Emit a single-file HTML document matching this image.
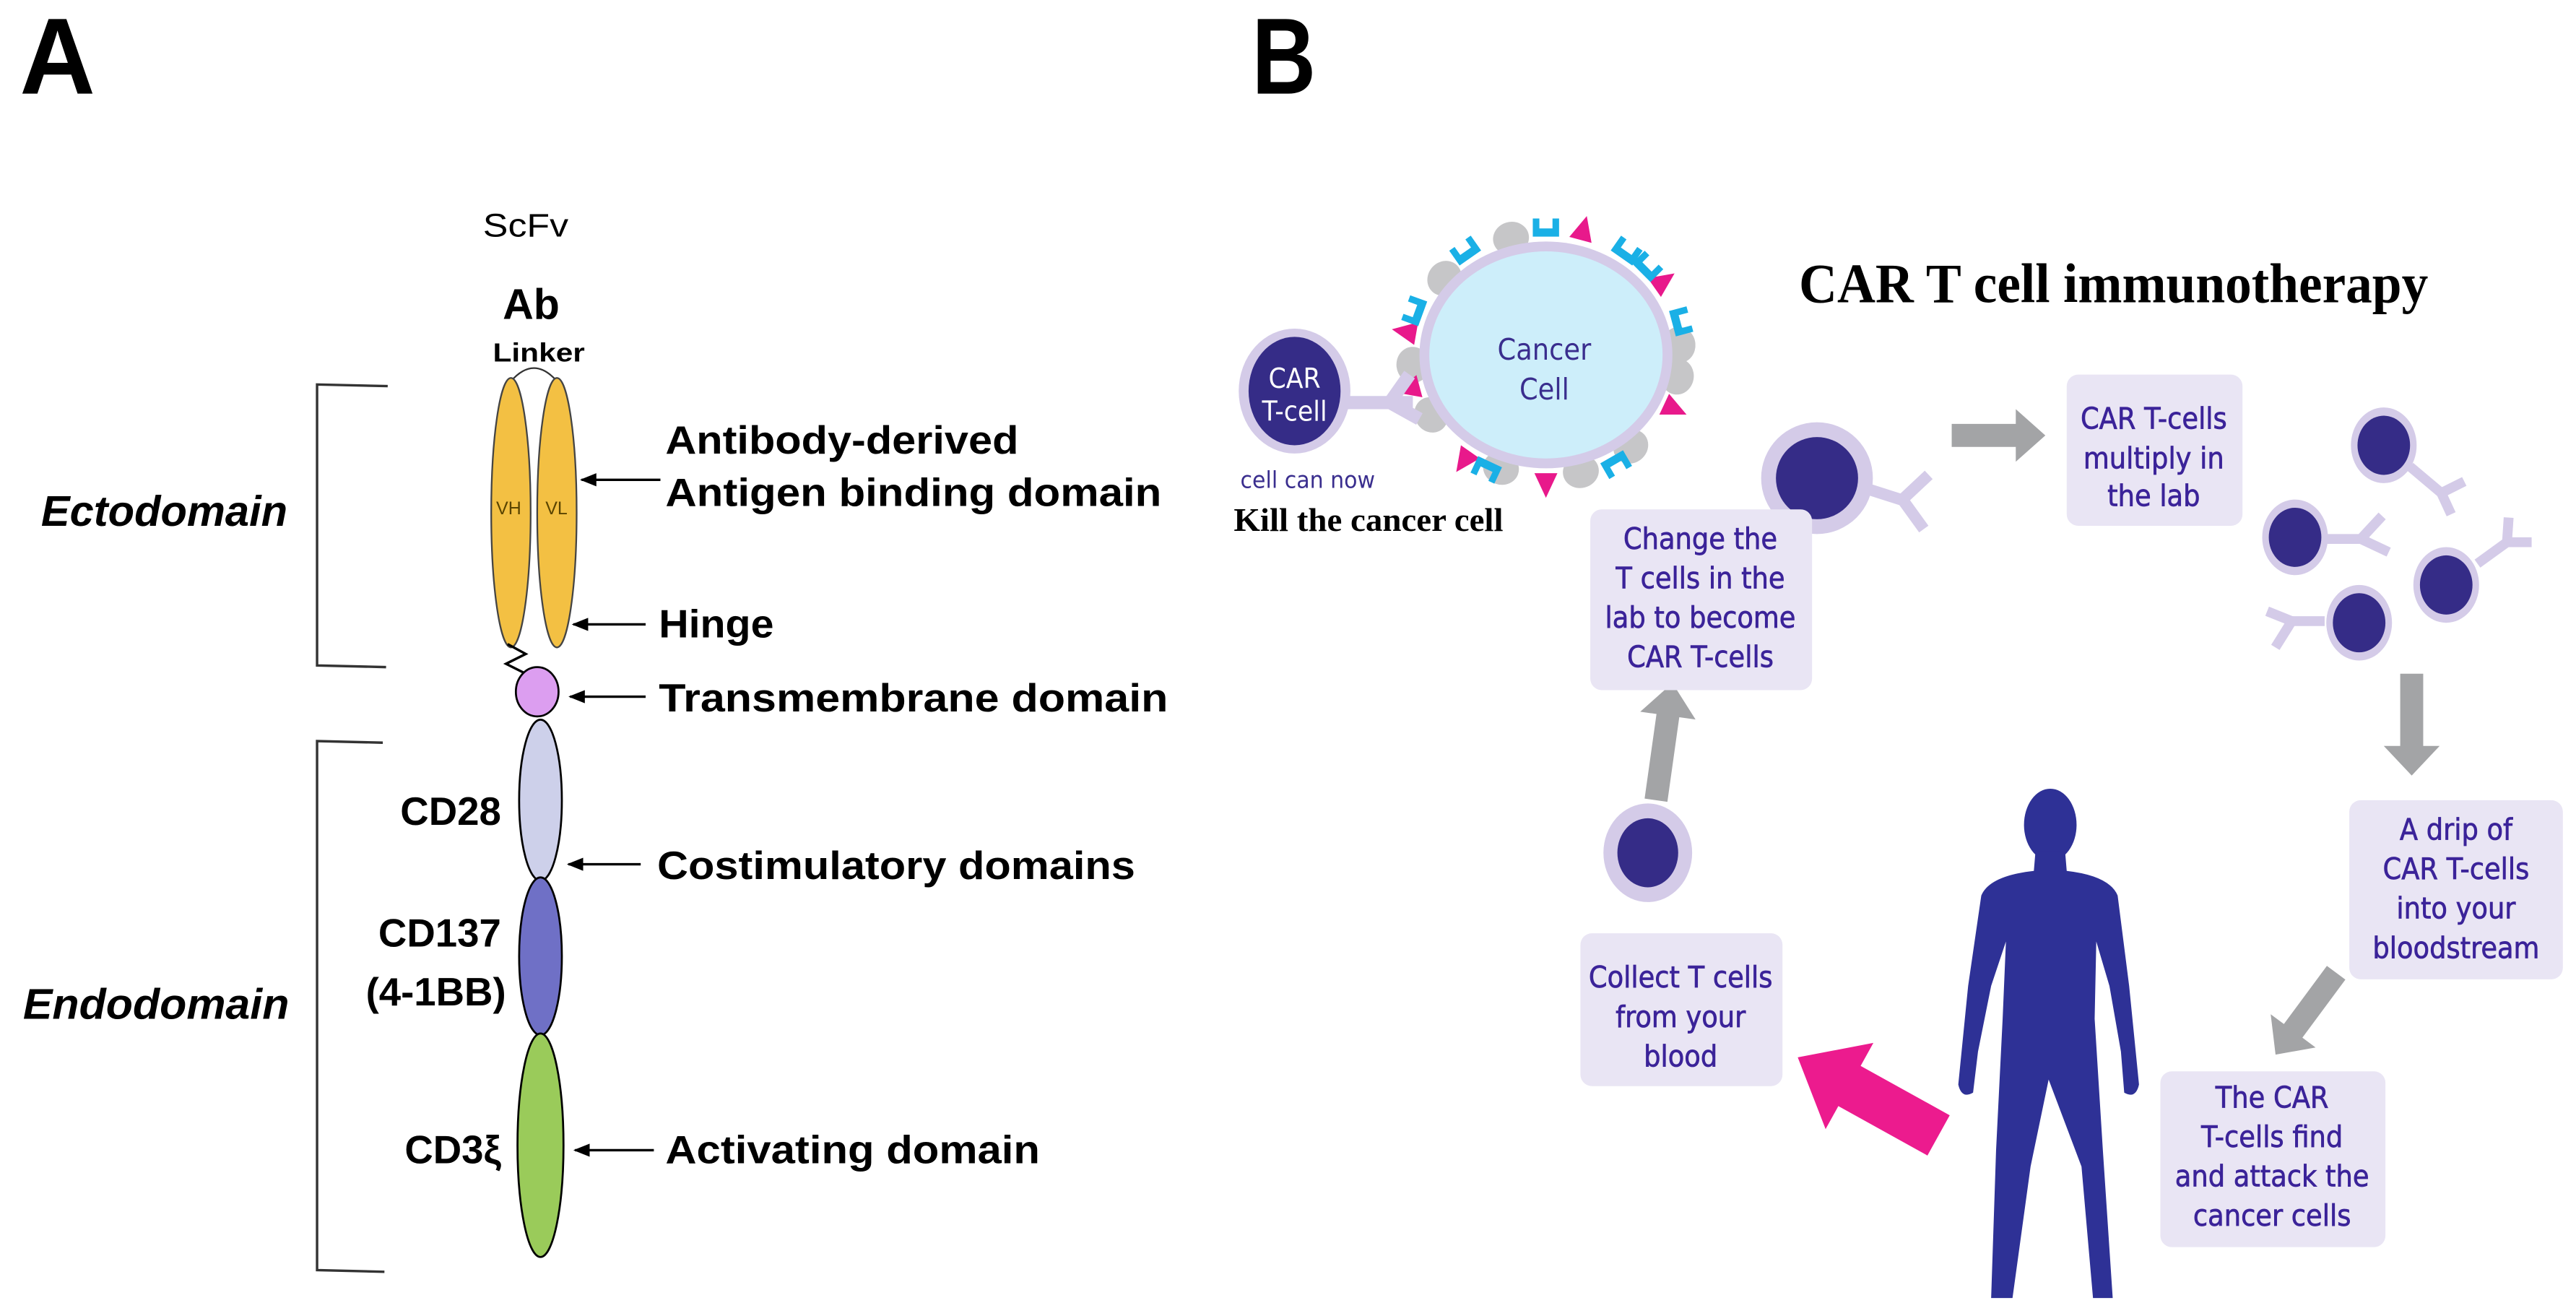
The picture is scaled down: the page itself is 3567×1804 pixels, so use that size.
<!DOCTYPE html>
<html><head><meta charset="utf-8"><style>html,body{margin:0;padding:0;background:#fff}svg{display:block}</style></head>
<body>
<svg width="3567" height="1804" viewBox="0 0 1568 793" preserveAspectRatio="none" xmlns="http://www.w3.org/2000/svg">
<defs>
<marker id="ah" markerWidth="10" markerHeight="8" refX="9" refY="4" orient="auto" markerUnits="userSpaceOnUse"><path d="M0,0 L10,4 L0,8 Z" fill="#000"/></marker>
</defs>
<rect width="1568" height="793" fill="#fff"/>
<g font-family="Liberation Sans, sans-serif" font-weight="bold">
<text x="12" y="57" font-size="66" textLength="46" lengthAdjust="spacingAndGlyphs">A</text>
<text x="762" y="57" font-size="66" textLength="39" lengthAdjust="spacingAndGlyphs">B</text>
</g>
<!-- Panel A -->
<g font-family="Liberation Sans, sans-serif" fill="#000">
<text x="294" y="144" font-size="20" textLength="52" lengthAdjust="spacingAndGlyphs">ScFv</text>
<text x="306" y="194" font-size="26" font-weight="bold">Ab</text>
<text x="300" y="220" font-size="16" font-weight="bold" textLength="56" lengthAdjust="spacingAndGlyphs">Linker</text>
<text x="25" y="320" font-size="26" font-weight="bold" font-style="italic" textLength="150" lengthAdjust="spacingAndGlyphs">Ectodomain</text>
<text x="14" y="620" font-size="26" font-weight="bold" font-style="italic" textLength="162" lengthAdjust="spacingAndGlyphs">Endodomain</text>
</g>
<g stroke="#333" stroke-width="1.5" fill="none">
<path d="M236,235 L193,234 L193,405 L235,406"/>
<path d="M233,452 L193,451 L193,773 L234,774"/>
</g>
<path d="M311,232 Q325,216 339,232" fill="none" stroke="#333" stroke-width="1"/>
<ellipse cx="311" cy="312" rx="12" ry="82" fill="#f3c043" stroke="#444" stroke-width="1"/>
<ellipse cx="339" cy="312" rx="12" ry="82" fill="#f3c043" stroke="#444" stroke-width="1"/>
<text x="302" y="313" font-family="Liberation Sans, sans-serif" font-size="11" fill="#5a4400">VH</text>
<text x="332" y="313" font-family="Liberation Sans, sans-serif" font-size="11" fill="#5a4400">VL</text>
<path d="M309,392 L320,398 L308,404 L324,412" fill="none" stroke="#000" stroke-width="1.5"/>
<ellipse cx="327" cy="421" rx="13" ry="15" fill="#dc9ef0" stroke="#000" stroke-width="1.2"/>
<ellipse cx="329" cy="487" rx="13" ry="49" fill="#cdd0ea" stroke="#000" stroke-width="1.2"/>
<ellipse cx="329" cy="582" rx="13" ry="48" fill="#6f70c6" stroke="#000" stroke-width="1.2"/>
<ellipse cx="329" cy="697" rx="14" ry="68" fill="#9acb5a" stroke="#000" stroke-width="1.2"/>
<g font-family="Liberation Sans, sans-serif" font-weight="bold" font-size="24" fill="#000">
<text x="405" y="276" textLength="215" lengthAdjust="spacingAndGlyphs">Antibody-derived</text>
<text x="405" y="308" textLength="302" lengthAdjust="spacingAndGlyphs">Antigen binding domain</text>
<text x="401" y="388" textLength="70" lengthAdjust="spacingAndGlyphs">Hinge</text>
<text x="401" y="433" textLength="310" lengthAdjust="spacingAndGlyphs">Transmembrane  domain</text>
<text x="400" y="535" textLength="291" lengthAdjust="spacingAndGlyphs">Costimulatory domains</text>
<text x="405" y="708" textLength="228" lengthAdjust="spacingAndGlyphs">Activating domain</text>
<text x="305" y="502" text-anchor="end">CD28</text>
<text x="305" y="576" text-anchor="end">CD137</text>
<text x="308" y="612" text-anchor="end">(4-1BB)</text>
<text x="305" y="708" text-anchor="end">CD3ξ</text>
</g>
<g stroke="#000" stroke-width="1.5" marker-end="url(#ah)">
<line x1="402" y1="292" x2="354" y2="292"/>
<line x1="393" y1="380" x2="349" y2="380"/>
<line x1="393" y1="424" x2="347" y2="424"/>
<line x1="390" y1="526" x2="346" y2="526"/>
<line x1="398" y1="700" x2="350" y2="700"/>
</g>
<!-- Panel B -->
<text x="1095" y="184" font-family="Liberation Serif, serif" font-weight="bold" font-size="34" textLength="383" lengthAdjust="spacingAndGlyphs">CAR T cell immunotherapy</text>
<g fill="#c6c6c8">
<g transform="translate(920,146) rotate(-15)"><ellipse cx="0" cy="-1" rx="11" ry="10"/></g>
<g transform="translate(880,170) rotate(-50)"><ellipse cx="0" cy="-1" rx="11" ry="10"/></g>
<g transform="translate(861,222) rotate(265)"><ellipse cx="0" cy="-1" rx="11" ry="10"/></g>
<g transform="translate(872,252) rotate(240)"><ellipse cx="0" cy="-1" rx="11" ry="10"/></g>
<g transform="translate(914,284) rotate(200)"><ellipse cx="0" cy="-1" rx="11" ry="10"/></g>
<g transform="translate(962,286) rotate(165)"><ellipse cx="0" cy="-1" rx="11" ry="10"/></g>
<g transform="translate(992,271) rotate(140)"><ellipse cx="0" cy="-1" rx="11" ry="10"/></g>
<g transform="translate(1020,229) rotate(100)"><ellipse cx="0" cy="-1" rx="11" ry="10"/></g>
<g transform="translate(1021,210) rotate(85)"><ellipse cx="0" cy="-1" rx="11" ry="10"/></g>
</g>
<g fill="#e8198b">
<g transform="translate(962,146) rotate(15)"><polygon points="-7,0 7,0 0,-15"/></g>
<g transform="translate(1007,175) rotate(55)"><polygon points="-7,0 7,0 0,-15"/></g>
<g transform="translate(862,203) rotate(-80)"><polygon points="-7,0 7,0 0,-15"/></g>
<g transform="translate(864,235) rotate(255)"><polygon points="-7,0 7,0 0,-15"/></g>
<g transform="translate(895,275) rotate(215)"><polygon points="-7,0 7,0 0,-15"/></g>
<g transform="translate(941,288) rotate(180)"><polygon points="-7,0 7,0 0,-15"/></g>
<g transform="translate(1013,246) rotate(115)"><polygon points="-7,0 7,0 0,-15"/></g>
</g>
<g fill="#1ab0e6">
<g transform="translate(941,144)"><path d="M-8,0 L-8,-11 L-4,-11 L-4,-5 L4,-5 L4,-11 L8,-11 L8,0Z"/></g>
<g transform="translate(987,157) rotate(35)"><path d="M-8,0 L-8,-11 L-4,-11 L-4,-5 L4,-5 L4,-11 L8,-11 L8,0Z"/></g>
<g transform="translate(999,166) rotate(45)"><path d="M-8,0 L-8,-11 L-4,-11 L-4,-5 L4,-5 L4,-11 L8,-11 L8,0Z"/></g>
<g transform="translate(1018,197) rotate(75)"><path d="M-8,0 L-8,-11 L-4,-11 L-4,-5 L4,-5 L4,-11 L8,-11 L8,0Z"/></g>
<g transform="translate(866,191) rotate(-70)"><path d="M-8,0 L-8,-11 L-4,-11 L-4,-5 L4,-5 L4,-11 L8,-11 L8,0Z"/></g>
<g transform="translate(895,157) rotate(-35)"><path d="M-8,0 L-8,-11 L-4,-11 L-4,-5 L4,-5 L4,-11 L8,-11 L8,0Z"/></g>
<g transform="translate(907,281) rotate(205)"><path d="M-8,0 L-8,-11 L-4,-11 L-4,-5 L4,-5 L4,-11 L8,-11 L8,0Z"/></g>
<g transform="translate(981,278) rotate(150)"><path d="M-8,0 L-8,-11 L-4,-11 L-4,-5 L4,-5 L4,-11 L8,-11 L8,0Z"/></g>
</g>
<ellipse cx="941" cy="216" rx="77" ry="69" fill="#d4cbe8"/>
<ellipse cx="941" cy="216" rx="71" ry="63" fill="#cdeefa"/>
<g font-family="DejaVu Sans Condensed, Liberation Sans, sans-serif" fill="#3a2e8e" font-size="18" text-anchor="middle">
<text x="940" y="219">Cancer</text><text x="940" y="243">Cell</text>
</g>
<g stroke="#d4cbe8" stroke-width="8" stroke-linecap="butt" fill="none">
<line x1="818" y1="245" x2="860" y2="245"/>
<line x1="846" y1="245" x2="858" y2="228"/>
<line x1="846" y1="245" x2="864" y2="255"/>
</g>
<ellipse cx="788" cy="238" rx="34" ry="38" fill="#d4cbe8"/>
<ellipse cx="788" cy="238" rx="28" ry="33" fill="#352c87"/>
<g font-family="DejaVu Sans Condensed, Liberation Sans, sans-serif" fill="#fff" font-size="17" text-anchor="middle">
<text x="788" y="236">CAR</text><text x="788" y="256">T-cell</text>
</g>
<text x="755" y="297" font-family="DejaVu Sans Condensed, Liberation Sans, sans-serif" font-size="14" fill="#3a2e8e" textLength="82" lengthAdjust="spacingAndGlyphs">cell can now</text>
<text x="751" y="323" font-family="Liberation Serif, serif" font-weight="bold" font-size="20" textLength="164" lengthAdjust="spacingAndGlyphs">Kill the cancer cell</text>
<g stroke="#d4cbe8" stroke-width="7" fill="none">
<line x1="1135" y1="297" x2="1160" y2="305"/>
<line x1="1158" y1="304" x2="1174" y2="289"/>
<line x1="1158" y1="304" x2="1171" y2="322"/>
</g>
<circle cx="1106" cy="291" r="34" fill="#d4cbe8"/>
<circle cx="1106" cy="291" r="25" fill="#352c87"/>
<g stroke="#d4cbe8" stroke-width="6" fill="none">
<line x1="1467" y1="284" x2="1486" y2="300"/><line x1="1486" y1="300" x2="1500" y2="293"/><line x1="1486" y1="300" x2="1492" y2="313"/>
<line x1="1415" y1="328" x2="1437" y2="328"/><line x1="1437" y1="328" x2="1450" y2="314"/><line x1="1437" y1="328" x2="1454" y2="336"/>
<line x1="1508" y1="343" x2="1526" y2="330"/><line x1="1526" y1="330" x2="1527" y2="315"/><line x1="1526" y1="330" x2="1541" y2="330"/>
<line x1="1415" y1="378" x2="1395" y2="378"/><line x1="1395" y1="378" x2="1380" y2="372"/><line x1="1395" y1="378" x2="1385" y2="394"/>
</g>
<g fill="#d4cbe8"><ellipse cx="1451" cy="271" rx="20" ry="23"/><ellipse cx="1397" cy="327" rx="20" ry="23"/><ellipse cx="1489" cy="356" rx="20" ry="23"/><ellipse cx="1436" cy="379" rx="20" ry="23"/>
<ellipse cx="1003" cy="519" rx="27" ry="30"/></g>
<g fill="#352c87"><ellipse cx="1451" cy="271" rx="16" ry="18"/><ellipse cx="1397" cy="327" rx="16" ry="18"/><ellipse cx="1489" cy="356" rx="16" ry="18"/><ellipse cx="1436" cy="379" rx="16" ry="18"/>
<ellipse cx="1003" cy="519" rx="18.5" ry="21"/></g>
<g fill="#a3a4a6">
<g transform="translate(1188,265) rotate(0)"><polygon points="0,-7 39,-7 39,-16 57,0 39,16 39,7 0,7"/></g>
<g transform="translate(1468,410) rotate(90)"><polygon points="0,-7 44,-7 44,-17 62,0 44,17 44,7 0,7"/></g>
<g transform="translate(1422,592) rotate(126.5)"><polygon points="0,-7 44,-7 44,-17 62,0 44,17 44,7 0,7"/></g>
<g transform="translate(1008,487) rotate(-82)"><polygon points="0,-7 52,-7 52,-17 72,0 52,17 52,7 0,7"/></g>
</g>
<g transform="translate(1180,691) rotate(209)" fill="#ec1b8e"><polygon points="0,-14 62,-14 62,-30 98,0 62,30 62,14 0,14"/></g>
<g fill="#2e3196">
<ellipse cx="1248" cy="502" rx="16" ry="22"/>
<path d="M1239,518 L1257,518 L1258,530 Q1284,533 1289,545 L1296,600 L1302,660 Q1300,669 1293,665 L1291,640 L1284,600 L1276,573 L1275,620 L1280,700 L1286,790 L1274,790 L1267,710 L1247,657 L1236,710 L1225,790 L1212,790 L1215,700 L1219,620 L1221,573 L1212,600 L1204,640 L1201,665 Q1194,669 1192,660 L1198,600 L1206,545 Q1211,533 1238,530 Z"/>
</g>
<g fill="#e9e5f4">
<rect x="1258" y="228" width="107" height="92" rx="7"/>
<rect x="968" y="310" width="135" height="110" rx="7"/>
<rect x="962" y="568" width="123" height="93" rx="7"/>
<rect x="1430" y="487" width="130" height="109" rx="7"/>
<rect x="1315" y="652" width="137" height="107" rx="7"/>
</g>
<g font-family="DejaVu Sans Condensed, Liberation Sans, sans-serif" fill="#3b2399" font-size="18" text-anchor="middle" stroke="#3b2399" stroke-width="0.3">
<text x="1311" y="261">CAR T-cells</text><text x="1311" y="285">multiply in</text><text x="1311" y="308">the lab</text>
<text x="1035" y="334">Change the</text><text x="1035" y="358">T cells in the</text><text x="1035" y="382">lab to become</text><text x="1035" y="406">CAR T-cells</text>
<text x="1023" y="601">Collect T cells</text><text x="1023" y="625">from your</text><text x="1023" y="649">blood</text>
<text x="1495" y="511">A drip of</text><text x="1495" y="535">CAR T-cells</text><text x="1495" y="559">into your</text><text x="1495" y="583">bloodstream</text>
<text x="1383" y="674">The CAR</text><text x="1383" y="698">T-cells find</text><text x="1383" y="722">and attack the</text><text x="1383" y="746">cancer cells</text>
</g>
</svg>
</body></html>
